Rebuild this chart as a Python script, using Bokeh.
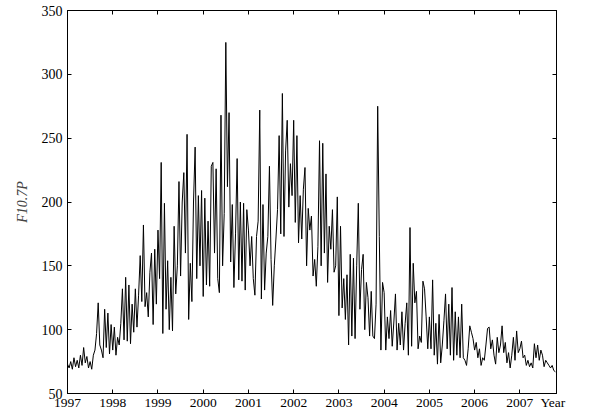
from bokeh.plotting import figure
from bokeh.models import Range1d, LinearAxis, FixedTicker
from bokeh.embed import file_html
from bokeh.resources import INLINE

# Tick values
year_ticks = [1997, 1998, 1999, 2000, 2001, 2002, 2003, 2004, 2005, 2006, 2007]
flux_ticks = [50, 100, 150, 200, 250, 300, 350]
year_title_pos = 2007.73   # where the "Year" caption sits on the time axis

# F10.7P values, 28 samples per year (~13-day step)
flux_1997 = [73, 70, 75, 69, 78, 71, 76, 70, 80, 72, 86, 74, 79, 70,
             75, 69, 80, 84, 97, 121, 88, 84, 78, 116, 86, 113, 81, 104]
flux_1998 = [84, 102, 80, 94, 88, 105, 132, 92, 141, 91, 135, 89, 120, 98,
             132, 102, 127, 158, 122, 182, 118, 129, 110, 145, 160, 104, 163, 120]
flux_1999 = [178, 140, 231, 97, 199, 116, 154, 100, 141, 99, 181, 128, 150, 216,
             142, 200, 223, 160, 253, 108, 152, 122, 200, 243, 140, 205, 150, 209]
flux_2000 = [126, 203, 135, 185, 134, 228, 231, 160, 226, 140, 129, 268, 150, 191,
             325, 212, 270, 153, 198, 133, 175, 234, 139, 200, 138, 199, 131, 194]
flux_2001 = [178, 150, 173, 140, 127, 173, 185, 272, 124, 198, 131, 160, 173, 228,
             155, 119, 150, 171, 194, 252, 175, 285, 173, 240, 264, 196, 230, 205]
flux_2002 = [264, 184, 252, 168, 205, 171, 210, 227, 150, 195, 178, 189, 142, 155,
             134, 165, 248, 150, 246, 160, 222, 137, 181, 163, 194, 145, 150, 204]
flux_2003 = [111, 181, 117, 140, 108, 143, 88, 159, 95, 156, 93, 150, 199, 116,
             147, 159, 100, 137, 125, 95, 130, 95, 93, 120, 275, 173, 84, 137]
flux_2004 = [129, 84, 110, 93, 115, 87, 106, 128, 84, 105, 88, 114, 84, 105,
             121, 80, 180, 87, 152, 121, 130, 85, 95, 90, 138, 132, 110, 85]
flux_2005 = [110, 85, 139, 80, 105, 73, 112, 74, 88, 107, 128, 85, 120, 80,
             133, 76, 114, 80, 110, 78, 120, 78, 76, 72, 85, 103, 98, 93]
flux_2006 = [84, 90, 78, 85, 72, 78, 76, 88, 101, 102, 85, 92, 80, 73,
             94, 82, 88, 103, 82, 90, 74, 82, 70, 80, 94, 76, 99, 82]
flux_2007 = [85, 91, 78, 80, 72, 76, 71, 74, 70, 89, 78, 88, 76, 84,
             80, 71, 76, 74, 72, 70, 72, 68, 67]

samples_per_year = 28
series = [flux_1997, flux_1998, flux_1999, flux_2000, flux_2001, flux_2002,
          flux_2003, flux_2004, flux_2005, flux_2006, flux_2007]

t = []
f = []
for yr, vals in zip(year_ticks, series):
    for i, val in enumerate(vals):
        t.append(yr + i / samples_per_year)
        f.append(val)

FONT = "Liberation Serif"
FS = "14px"
FS_X = "13.5px"

p = figure(width=594, height=412, output_backend="svg", toolbar_location=None,
           x_range=Range1d(1997, 2007.81), y_range=Range1d(50, 350),
           min_border_left=67, min_border_right=38, min_border_top=10,
           min_border_bottom=17, background_fill_color="white",
           border_fill_color="white")
p.grid.visible = False
p.outline_line_color = "black"
p.outline_line_width = 1

p.line(t, f, line_color="black", line_width=1)


def style_axis(ax, labels=True, ticks_in=4):
    ax.major_tick_in = ticks_in
    ax.major_tick_out = 0
    ax.minor_tick_in = 0
    ax.minor_tick_out = 0
    ax.axis_line_color = "black"
    ax.major_tick_line_color = "black"
    ax.major_label_text_font = FONT
    ax.major_label_text_color = "black"
    if labels:
        ax.major_label_text_font_size = FS
    else:
        ax.major_label_text_font_size = "0px"
        ax.major_label_standoff = 0


# bottom: inner tick marks only (closest to the frame)
bottom_ticks = LinearAxis(ticker=FixedTicker(ticks=year_ticks))
style_axis(bottom_ticks, labels=False)

# bottom: year labels plus the "Year" caption, no tick marks
xa = p.xaxis[0]
xa.ticker = FixedTicker(ticks=year_ticks + [year_title_pos])
style_axis(xa, ticks_in=0)
xa.major_label_text_font_size = FS_X
xa.axis_line_color = None
xa.major_label_standoff = 1
overrides = {yr: str(yr) for yr in year_ticks}
overrides[year_title_pos] = "Year"
xa.major_label_overrides = overrides

p.below = [bottom_ticks, xa]

ya = p.yaxis[0]
ya.ticker = FixedTicker(ticks=flux_ticks)
style_axis(ya)
ya.major_label_standoff = 5
ya.axis_label = "F10.7P"
ya.axis_label_text_font = FONT
ya.axis_label_text_font_size = FS
ya.axis_label_text_font_style = "italic"
ya.axis_label_standoff = 9

top = LinearAxis(ticker=FixedTicker(ticks=year_ticks))
style_axis(top, labels=False)
p.add_layout(top, "above")

right = LinearAxis(ticker=FixedTicker(ticks=flux_ticks))
style_axis(right, labels=False)
p.add_layout(right, "right")

open("out.html", "w").write(file_html(p, INLINE))
